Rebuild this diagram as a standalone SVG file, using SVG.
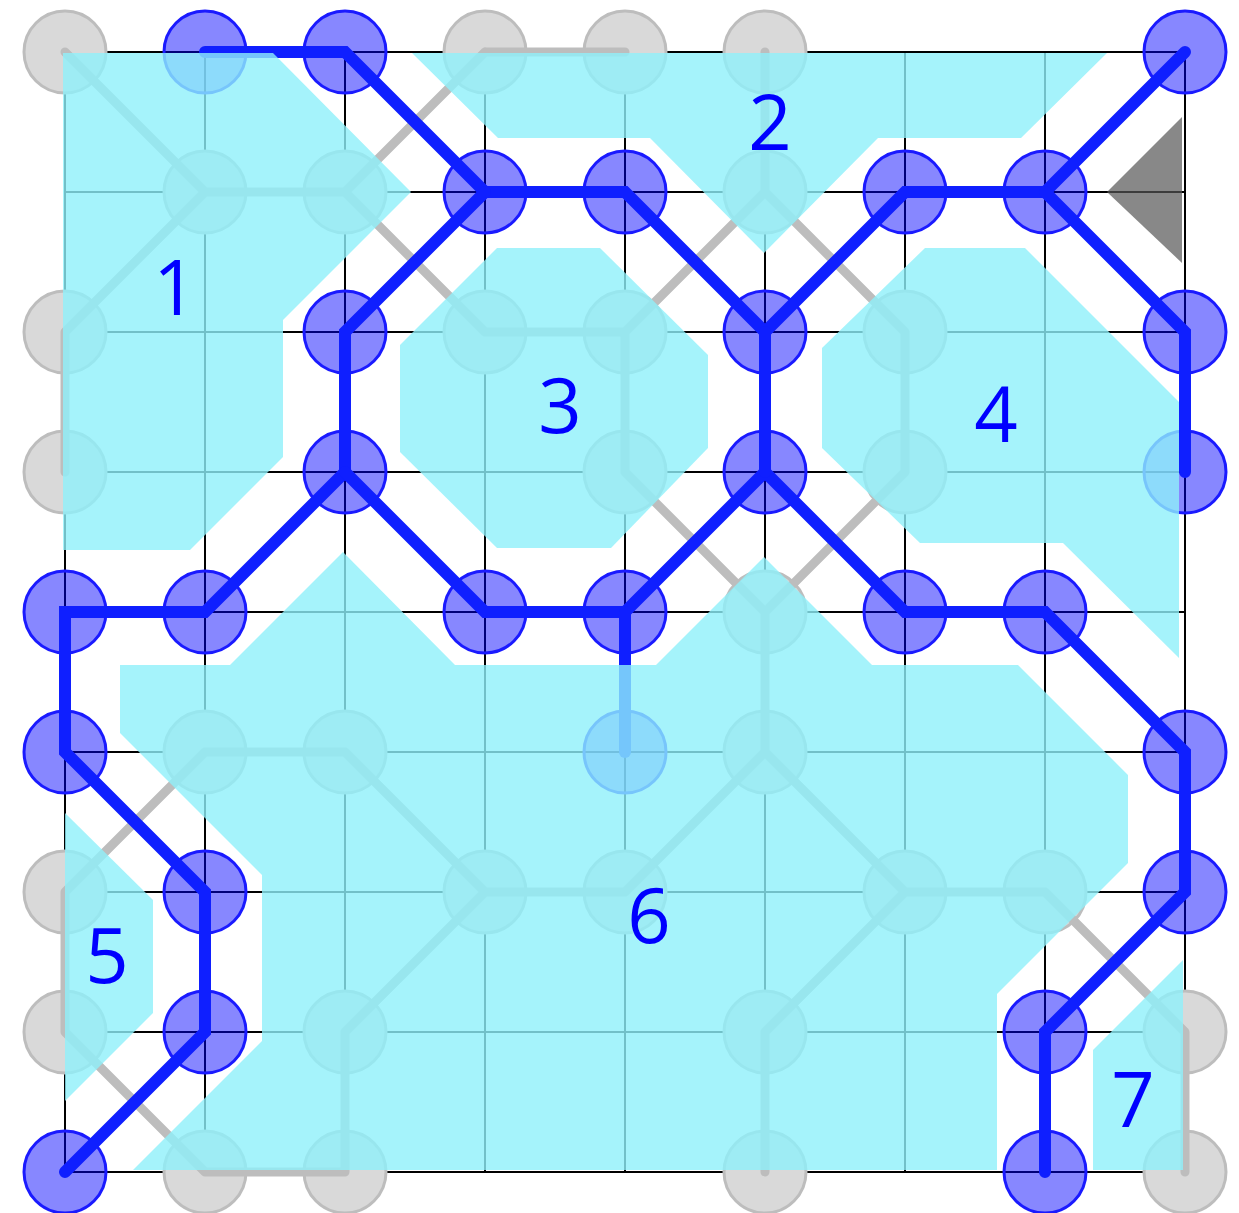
<svg xmlns="http://www.w3.org/2000/svg" width="1239" height="1213" viewBox="0 0 1239 1213">
<style>
.grid line{stroke:#000;stroke-width:2}
.gn{fill:#d9d9d9;stroke:#bdbdbd;stroke-width:3}
.bn{fill:#0000ff;fill-opacity:0.47;stroke:#1a1aff;stroke-width:3}
.ge{stroke:#bdbdbd;stroke-width:9;stroke-linecap:round;fill:none}
.be{stroke:#0f1fff;stroke-width:12;stroke-linecap:round;stroke-linejoin:miter;fill:none}
.reg{fill:#8ef0fa;fill-opacity:0.8}
.lbl{font-family:"Open Sans","Noto Sans",sans-serif;font-size:76px;fill:#0000ff;text-anchor:middle}
</style>
<rect width="1239" height="1213" fill="#fff"/>
<g id="grid" class="grid">
<line x1="65" y1="52" x2="65" y2="1172"/><line x1="205" y1="52" x2="205" y2="1172"/><line x1="345" y1="52" x2="345" y2="1172"/><line x1="485" y1="52" x2="485" y2="1172"/><line x1="625" y1="52" x2="625" y2="1172"/><line x1="765" y1="52" x2="765" y2="1172"/><line x1="905" y1="52" x2="905" y2="1172"/><line x1="1045" y1="52" x2="1045" y2="1172"/><line x1="1185" y1="52" x2="1185" y2="1172"/>
<line x1="65" y1="52" x2="1185" y2="52"/><line x1="65" y1="192" x2="1185" y2="192"/><line x1="65" y1="332" x2="1185" y2="332"/><line x1="65" y1="472" x2="1185" y2="472"/><line x1="65" y1="612" x2="1185" y2="612"/><line x1="65" y1="752" x2="1185" y2="752"/><line x1="65" y1="892" x2="1185" y2="892"/><line x1="65" y1="1032" x2="1185" y2="1032"/><line x1="65" y1="1172" x2="1185" y2="1172"/>
</g>
<g id="nodes">
<g id="n-0-0"><circle class="gn" cx="65" cy="52" r="41"/></g>
<g id="n-3-0"><circle class="gn" cx="485" cy="52" r="41"/></g>
<g id="n-4-0"><circle class="gn" cx="625" cy="52" r="41"/></g>
<g id="n-5-0"><circle class="gn" cx="765" cy="52" r="41"/></g>
<g id="n-1-1"><circle class="gn" cx="205" cy="192" r="41"/></g>
<g id="n-2-1"><circle class="gn" cx="345" cy="192" r="41"/></g>
<g id="n-5-1"><circle class="gn" cx="765" cy="192" r="41"/></g>
<g id="n-0-2"><circle class="gn" cx="65" cy="332" r="41"/></g>
<g id="n-3-2"><circle class="gn" cx="485" cy="332" r="41"/></g>
<g id="n-4-2"><circle class="gn" cx="625" cy="332" r="41"/></g>
<g id="n-6-2"><circle class="gn" cx="905" cy="332" r="41"/></g>
<g id="n-0-3"><circle class="gn" cx="65" cy="472" r="41"/></g>
<g id="n-4-3"><circle class="gn" cx="625" cy="472" r="41"/></g>
<g id="n-6-3"><circle class="gn" cx="905" cy="472" r="41"/></g>
<g id="n-5-4"><circle class="gn" cx="765" cy="612" r="41"/></g>
<g id="n-1-5"><circle class="gn" cx="205" cy="752" r="41"/></g>
<g id="n-2-5"><circle class="gn" cx="345" cy="752" r="41"/></g>
<g id="n-5-5"><circle class="gn" cx="765" cy="752" r="41"/></g>
<g id="n-0-6"><circle class="gn" cx="65" cy="892" r="41"/></g>
<g id="n-3-6"><circle class="gn" cx="485" cy="892" r="41"/></g>
<g id="n-4-6"><circle class="gn" cx="625" cy="892" r="41"/></g>
<g id="n-6-6"><circle class="gn" cx="905" cy="892" r="41"/></g>
<g id="n-7-6"><circle class="gn" cx="1045" cy="892" r="41"/></g>
<g id="n-0-7"><circle class="gn" cx="65" cy="1032" r="41"/></g>
<g id="n-2-7"><circle class="gn" cx="345" cy="1032" r="41"/></g>
<g id="n-5-7"><circle class="gn" cx="765" cy="1032" r="41"/></g>
<g id="n-8-7"><circle class="gn" cx="1185" cy="1032" r="41"/></g>
<g id="n-1-8"><circle class="gn" cx="205" cy="1172" r="41"/></g>
<g id="n-2-8"><circle class="gn" cx="345" cy="1172" r="41"/></g>
<g id="n-5-8"><circle class="gn" cx="765" cy="1172" r="41"/></g>
<g id="n-8-8"><circle class="gn" cx="1185" cy="1172" r="41"/></g>
<g id="b-1-0"><circle class="bn" cx="205" cy="52" r="41"/></g>
<g id="b-2-0"><circle class="bn" cx="345" cy="52" r="41"/></g>
<g id="b-8-0"><circle class="bn" cx="1185" cy="52" r="41"/></g>
<g id="b-3-1"><circle class="bn" cx="485" cy="192" r="41"/></g>
<g id="b-4-1"><circle class="bn" cx="625" cy="192" r="41"/></g>
<g id="b-6-1"><circle class="bn" cx="905" cy="192" r="41"/></g>
<g id="b-7-1"><circle class="bn" cx="1045" cy="192" r="41"/></g>
<g id="b-2-2"><circle class="bn" cx="345" cy="332" r="41"/></g>
<g id="b-5-2"><circle class="bn" cx="765" cy="332" r="41"/></g>
<g id="b-8-2"><circle class="bn" cx="1185" cy="332" r="41"/></g>
<g id="b-2-3"><circle class="bn" cx="345" cy="472" r="41"/></g>
<g id="b-5-3"><circle class="bn" cx="765" cy="472" r="41"/></g>
<g id="b-8-3"><circle class="bn" cx="1185" cy="472" r="41"/></g>
<g id="b-0-4"><circle class="bn" cx="65" cy="612" r="41"/></g>
<g id="b-1-4"><circle class="bn" cx="205" cy="612" r="41"/></g>
<g id="b-3-4"><circle class="bn" cx="485" cy="612" r="41"/></g>
<g id="b-4-4"><circle class="bn" cx="625" cy="612" r="41"/></g>
<g id="b-6-4"><circle class="bn" cx="905" cy="612" r="41"/></g>
<g id="b-7-4"><circle class="bn" cx="1045" cy="612" r="41"/></g>
<g id="b-0-5"><circle class="bn" cx="65" cy="752" r="41"/></g>
<g id="b-4-5"><circle class="bn" cx="625" cy="752" r="41"/></g>
<g id="b-8-5"><circle class="bn" cx="1185" cy="752" r="41"/></g>
<g id="b-1-6"><circle class="bn" cx="205" cy="892" r="41"/></g>
<g id="b-8-6"><circle class="bn" cx="1185" cy="892" r="41"/></g>
<g id="b-1-7"><circle class="bn" cx="205" cy="1032" r="41"/></g>
<g id="b-7-7"><circle class="bn" cx="1045" cy="1032" r="41"/></g>
<g id="b-0-8"><circle class="bn" cx="65" cy="1172" r="41"/></g>
<g id="b-7-8"><circle class="bn" cx="1045" cy="1172" r="41"/></g>
</g>
<g id="connectors">
<path class="ge" d="M65 52L205 192M205 192H345M205 192L65 332M345 192L485 52M345 192L485 332M65 332V472M485 52H625M765 52V192M765 192L625 332M765 192L905 332M485 332H625M625 332V472M905 332V472M625 472L765 612M905 472L765 612M765 612V752M765 752L625 892M765 752L905 892M625 892H485M485 892L345 752M485 892L345 1032M345 752H205M205 752L65 892M65 892V1032M65 1032L205 1172M205 1172H345M345 1172V1032M905 892H1045M905 892L765 1032M765 1032V1172M1045 892L1185 1032M1185 1032V1172"/>
<polyline class="be" points="205,52 345,52 485,192 625,192 765,332 905,192 1045,192 1185,52"/>
<polyline class="be" points="1045,192 1185,332 1185,472"/>
<polyline class="be" points="485,192 345,332 345,472 205,612 65,612 65,752 205,892 205,1032 65,1172"/>
<polyline class="be" points="345,472 485,612 625,612 765,472 905,612 1045,612 1185,752 1185,892 1045,1032 1045,1172"/>
<polyline class="be" points="625,612 625,752"/>
<polyline class="be" points="765,472 765,332"/>
</g>
<polygon id="marker-triangle" points="1107,192 1182,117 1182,263" fill="#555" fill-opacity="0.7"/>
<g id="regions">
<g id="region-1"><polygon class="reg" points="63,53 273,53 411,192 283,320 283,457 190,550 63,550"/><text class="lbl" x="175" y="315">1</text></g>
<g id="region-2"><polygon class="reg" points="412,53 498,138 650,138 764,253 878,138 1021,138 1107,53"/><text class="lbl" x="770" y="150">2</text></g>
<g id="region-3"><polygon class="reg" points="497,248 600,248 708,355 708,448 611,548 497,548 400,452 400,345"/><text class="lbl" x="560" y="433">3</text></g>
<g id="region-4"><polygon class="reg" points="822,348 925,248 1025,248 1179,402 1179,658 1063,543 920,543 822,448"/><text class="lbl" x="996" y="442">4</text></g>
<g id="region-5"><polygon class="reg" points="65,813 153,900 153,1013 65,1101"/><text class="lbl" x="107" y="983">5</text></g>
<g id="region-6"><polygon class="reg" points="120,665 230,665 343,552 455,665 656,665 764,557 872,665 1018,665 1128,775 1128,863 997,994 997,1170 133,1170 262,1041 262,875 120,733"/><text class="lbl" x="649" y="943">6</text></g>
<g id="region-7"><polygon class="reg" points="1093,1050 1183,960 1183,1170 1093,1170"/><text class="lbl" x="1133" y="1127">7</text></g>
</g>
</svg>
